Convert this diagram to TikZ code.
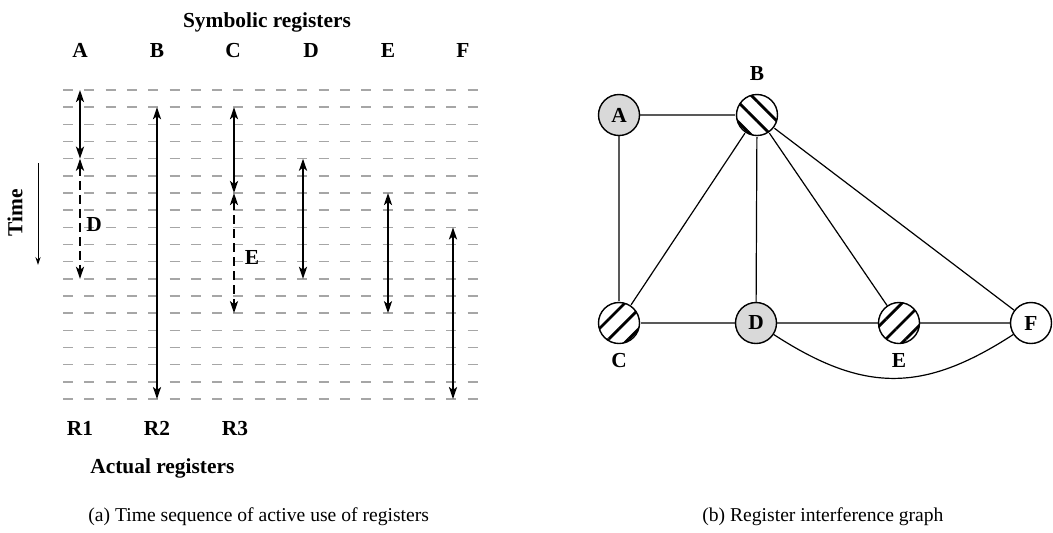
\documentclass[tikz,border=0pt]{standalone}
\usepackage{fontspec}
\setmainfont{Liberation Serif}
\usetikzlibrary{positioning,arrows.meta,patterns.meta}

\begin{document}
\begin{tikzpicture}[x=0.5pt, y=-0.5pt,
        lbl/.style={font=\fontsize{10.7}{12}\selectfont\bfseries, inner sep=0pt},
        capline/.style={font=\fontsize{9.8}{12}\selectfont, inner sep=0pt, anchor=base west},
        slot/.style={gray!70, line width=0.75pt, dash pattern=on 5pt off 5.65pt},
        life/.style={line width=1.2pt, {Stealth[length=6pt,width=4pt,inset=1.5pt]}-{Stealth[length=6pt,width=4pt,inset=1.5pt]}},
        spill/.style={life, dash pattern=on 4.5pt off 2.5pt},
        reg/.style={circle, draw, line width=0.7pt, minimum size=20.5pt, inner sep=0pt,
                    font=\fontsize{10.7}{12}\selectfont\bfseries},
        edge/.style={line width=0.6pt},
      ]
        \useasboundingbox (0,0) rectangle (1053,532);
        % Time slots
        \foreach \k in {0,...,18}
          \draw[slot] (63,{90+17.17*\k}) -- (480,{90+17.17*\k});
        % Symbolic registers
        \node[lbl, anchor=base] (symb) at (267,27) {Symbolic registers};
        \foreach \n/\x in {A/80, B/157, C/233, D/311, E/388, F/463}
          \node[lbl, anchor=base] (col\n) at (\x,57) {\n};
        % Lifetimes
        \foreach \x/\a/\b in {80/0/4, 157/1/18, 234/1/6, 303/4/11, 388/6/13, 453/8/18}
          \draw[life] (\x,{90+17.17*\a}) -- (\x,{90+17.17*\b});
        \foreach \x/\a/\b in {80/4/11, 234/6/13}
          \draw[spill] (\x,{90+17.17*\a}) -- (\x,{90+17.17*\b});
        \node[lbl, anchor=base] (spillD) at (94,231) {D};
        \node[lbl, anchor=base] (spillE) at (252,264) {E};
        % Time axis
        \node[lbl, rotate=90] (time) at (15,213) {Time};
        \coordinate (t0) at (38,163);
        \coordinate (t1) at (38,265);
        \draw[line width=0.5pt, -{Stealth[length=4pt,width=2.6pt]}] (t0) -- (t1);
        % Actual registers
        \foreach \n/\x in {1/80, 2/157, 3/235}
          \node[lbl, anchor=base] (R\n) at (\x,435) {R\n};
        \node[lbl, anchor=base west] (act) at (90,473) {Actual registers};
        % Interference graph
        \node[reg, fill=black!15] (A) at (619,115) {A};
        \node[reg, pattern={Lines[angle=-45,distance=7pt,line width=1.4pt]}] (B) at (757,115) {};
        \node[reg, pattern={Lines[angle=45,distance=7pt,line width=1.4pt]}] (C) at (619,323) {};
        \node[reg, fill=black!15] (D) at (756,323) {D};
        \node[reg, pattern={Lines[angle=45,distance=7pt,line width=1.4pt]}] (E) at (899,323) {};
        \node[reg] (F) at (1031,323) {F};
        \node[lbl, anchor=base] (labB) at (757,80) {B};
        \node[lbl, anchor=base] (labC) at (619,367) {C};
        \node[lbl, anchor=base] (labE) at (899,367) {E};
        \draw[edge] (A) -- (B) (A) -- (C) (B) -- (C) (B) -- (D) (B) -- (E) (B) -- (F)
                    (C) -- (D) (D) -- (E) (E) -- (F);
        \draw[edge] (D) to[out=-33, in=-147, looseness=1.15] (F);
        % Captions
        \node[capline] (capa) at (88,521) {(a) Time sequence of active use of registers};
        \node[capline] (capb) at (702,521) {(b) Register interference graph};
      \end{tikzpicture}
\end{document}
